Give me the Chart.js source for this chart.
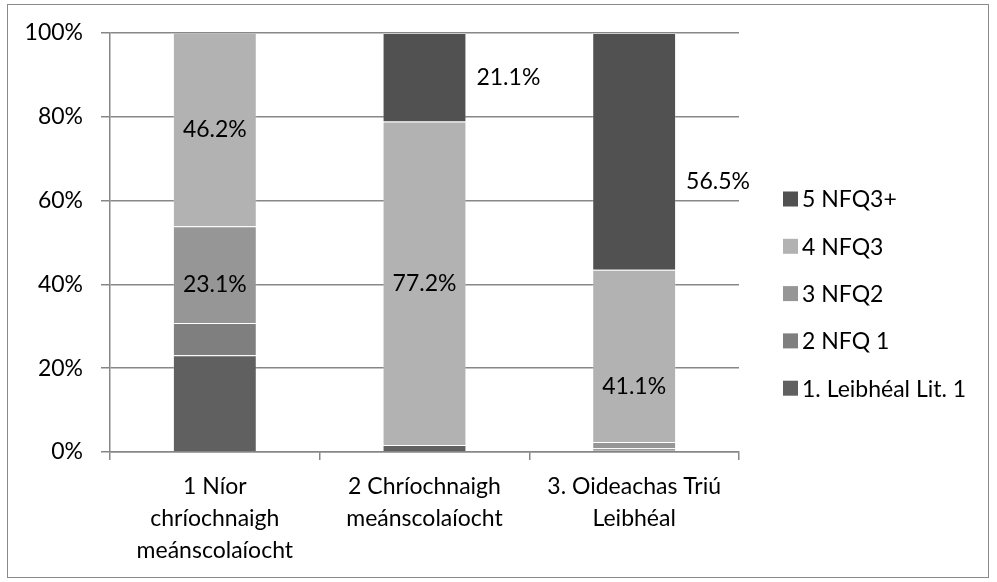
<!DOCTYPE html>
<html>
<head>
<meta charset="utf-8">
<script src="https://cdn.jsdelivr.net/npm/chart.js@4.4.1/dist/chart.umd.min.js"></script>
<style>
  html, body { margin: 0; padding: 0; background: #fff; }
  #wrap { width: 997px; height: 582px; }
</style>
</head>
<body>
<div id="wrap"><canvas id="chart"></canvas></div>
<script>
// Data (percent of each group)
const categories = [
    ['1 Níor', 'chríochnaigh', 'meánscolaíocht'],
    ['2 Chríochnaigh', 'meánscolaíocht'],
    ['3. Oideachas Triú', 'Leibhéal']
];
const seriesNames = ['1. Leibhéal Lit. 1', '2 NFQ 1', '3 NFQ2', '4 NFQ3', '5 NFQ3+'];
const leibheal1 = [23.1, 1.7, 0.3];
const nfq1 = [7.7, 0, 0.6];
const nfq2 = [23.1, 0, 1.5];
const nfq3 = [46.2, 77.2, 41.1];
const nfq3plus = [0, 21.1, 56.5];
const yTicks = [0, 20, 40, 60, 80, 100];

// which segments carry a value label: [series, category, placement, y value for the text]
const shownLabels = [
    [3, 0, 'center', null],
    [2, 0, 'center', 40],
    [3, 1, 'center', null],
    [4, 1, 'right', null],
    [4, 2, 'right', 64.5],
    [3, 2, 'center', 15.5]
];

const colors = ['#606060', '#7f7f7f', '#969696', '#b2b2b2', '#515151'];
const FONT = 'Lato, "Open Sans", sans-serif';
const AXIS_GREY = '#878787';

// Frame around the whole chart
const frame = {
    id: 'frame',
    beforeDraw(chart) {
        const ctx = chart.ctx;
        ctx.save();
        ctx.strokeStyle = '#8a8a8a';
        ctx.lineWidth = 1;
        ctx.strokeRect(7.5, 4.5, 981, 573);
        ctx.restore();
    }
};

// Value labels on the chosen segments
const valueLabels = {
    id: 'valueLabels',
    afterDatasetsDraw(chart) {
        const ctx = chart.ctx;
        const yScale = chart.scales.y;
        ctx.save();
        ctx.font = '23px ' + FONT;
        ctx.fillStyle = '#000';
        ctx.textBaseline = 'middle';
        shownLabels.forEach(([s, c, place, at]) => {
            const bar = chart.getDatasetMeta(s).data[c];
            const value = chart.data.datasets[s].data[c];
            const y = at === null ? (bar.y + bar.base) / 2 : yScale.getPixelForValue(at);
            if (place === 'right') {
                ctx.textAlign = 'left';
                ctx.fillText(value.toFixed(1) + '%', bar.x + bar.width / 2 + 10, y);
            } else {
                ctx.textAlign = 'center';
                ctx.fillText(value.toFixed(1) + '%', bar.x, y);
            }
        });
        ctx.restore();
    }
};

// Legend on the right, top series first
const sideLegend = {
    id: 'sideLegend',
    afterDraw(chart) {
        const ctx = chart.ctx;
        const sets = chart.data.datasets;
        ctx.save();
        ctx.font = '23px ' + FONT;
        ctx.textBaseline = 'middle';
        ctx.textAlign = 'left';
        for (let i = sets.length - 1, row = 0; i >= 0; i--, row++) {
            const cy = 199 + row * 47.3;
            ctx.fillStyle = sets[i].backgroundColor;
            ctx.fillRect(783, cy - 7.5, 15, 15);
            ctx.fillStyle = '#000';
            ctx.fillText(sets[i].label, 802, cy + 1);
        }
        ctx.restore();
    }
};

const seriesData = [leibheal1, nfq1, nfq2, nfq3, nfq3plus];

new Chart(document.getElementById('chart'), {
    type: 'bar',
    data: {
        labels: categories,
        datasets: seriesData.map((d, i) => ({
            label: seriesNames[i],
            data: d,
            backgroundColor: colors[i],
            borderColor: 'rgba(255,255,255,0.18)',
            borderWidth: 1,
            barPercentage: 0.4,
            categoryPercentage: 1
        }))
    },
    options: {
        responsive: true,
        maintainAspectRatio: false,
        animation: false,
        layout: { padding: { top: 33, right: 258, bottom: 15, left: 8 } },
        plugins: {
            legend: { display: false },
            tooltip: { enabled: false }
        },
        scales: {
            x: {
                stacked: true,
                offset: true,
                grid: {
                    offset: true,
                    drawOnChartArea: false,
                    drawTicks: true,
                    tickLength: 8,
                    color: AXIS_GREY,
                    lineWidth: 1.5
                },
                border: { display: true, color: AXIS_GREY, width: 1.5 },
                ticks: {
                    color: '#000',
                    padding: 11,
                    maxRotation: 0,
                    autoSkip: false,
                    font: { family: FONT, size: 23, lineHeight: 1.39 }
                },
                afterFit(scale) { scale.height = 115; }
            },
            y: {
                stacked: true,
                min: 0,
                max: 100,
                afterBuildTicks(scale) { scale.ticks = yTicks.map(v => ({ value: v })); },
                grid: {
                    color: AXIS_GREY,
                    lineWidth: 1.5,
                    tickLength: 9
                },
                border: { display: true, color: AXIS_GREY, width: 1.5 },
                ticks: {
                    color: '#000',
                    padding: 18,
                    font: { family: FONT, size: 23 },
                    callback: v => v + '%'
                },
                afterFit(scale) { scale.width = 102; }
            }
        }
    },
    plugins: [frame, valueLabels, sideLegend]
});
</script>
</body>
</html>
